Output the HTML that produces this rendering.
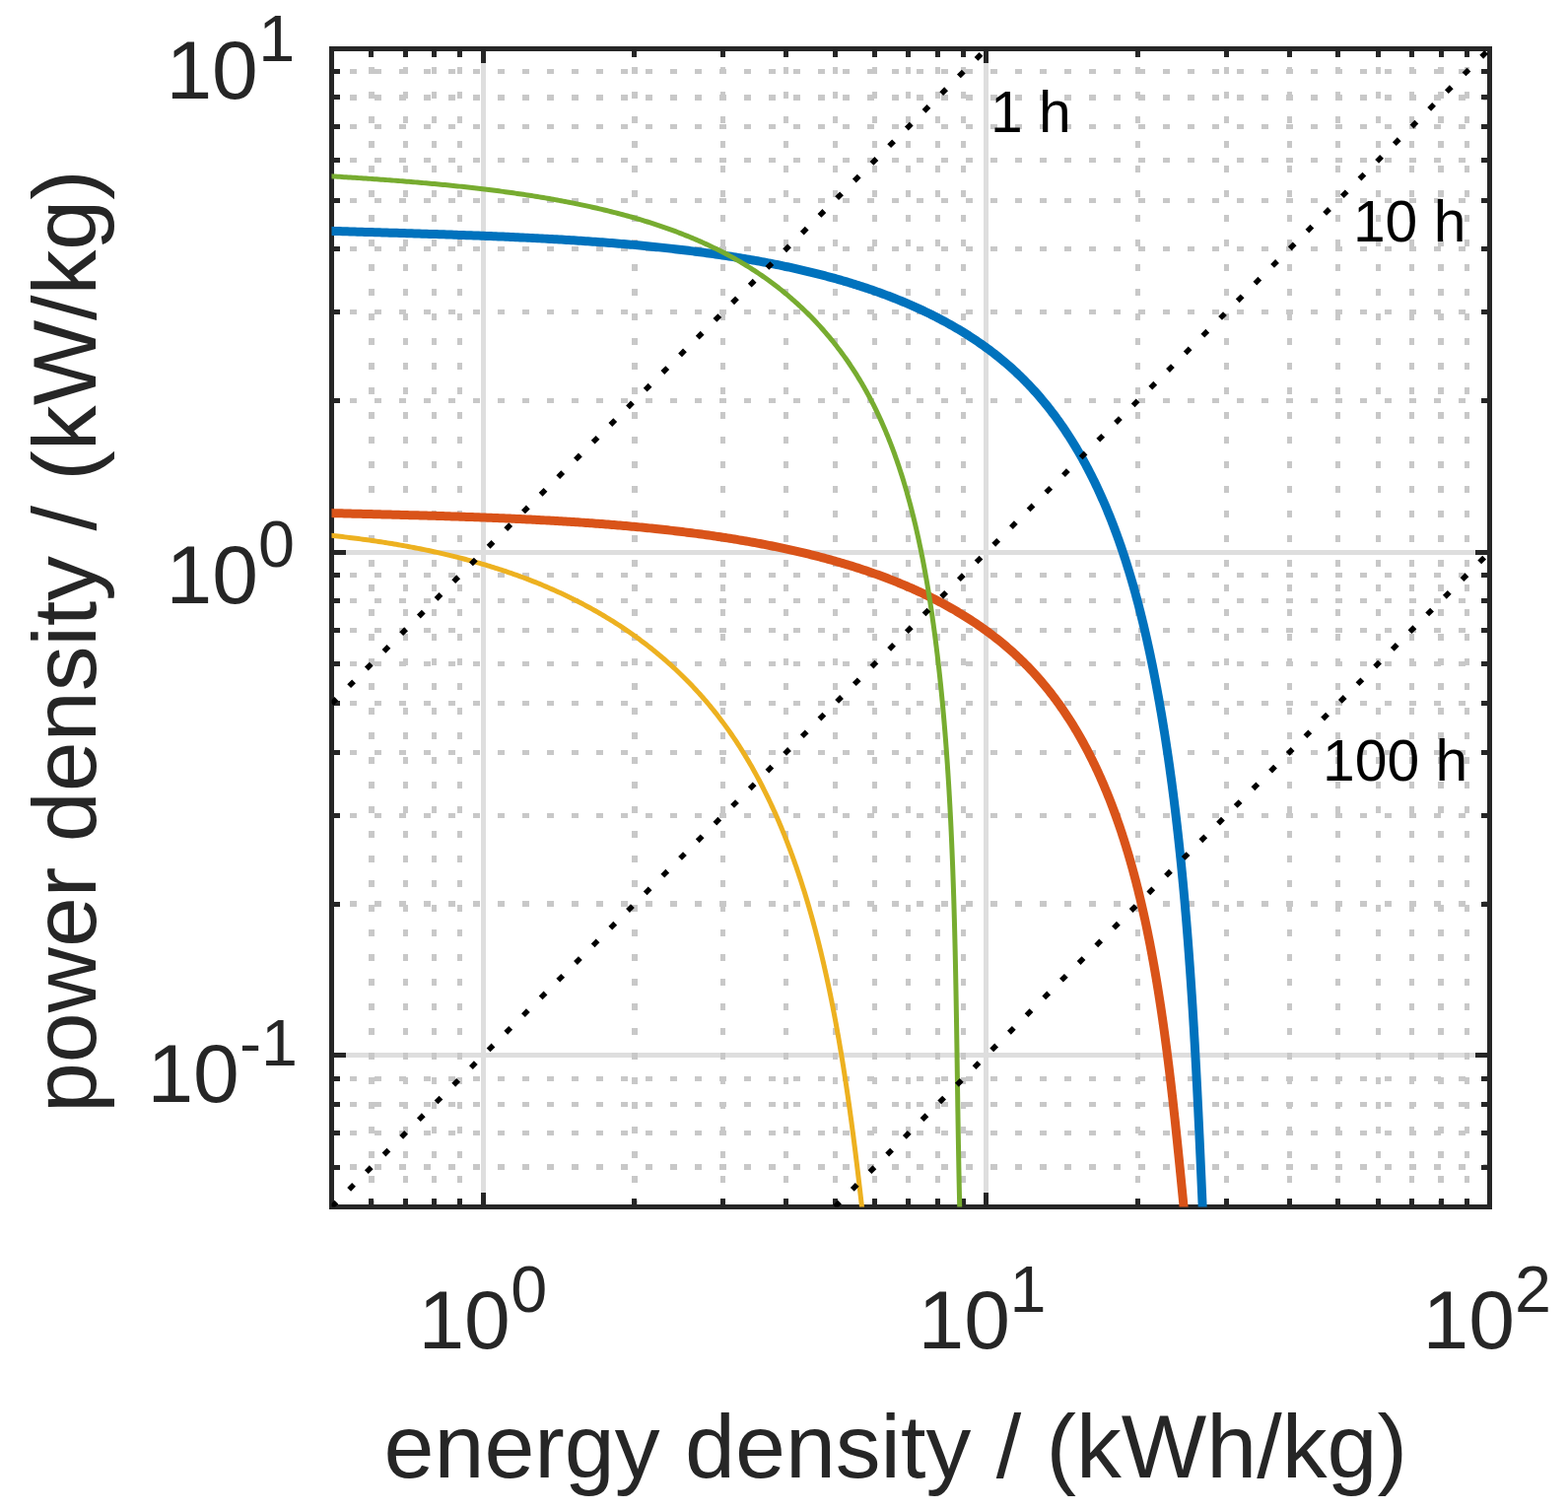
<!DOCTYPE html>
<html><head><meta charset="utf-8"><title>Ragone plot</title>
<style>html,body{margin:0;padding:0;background:#fff;}svg{display:block}
text{font-family:"Liberation Sans",sans-serif;}</style></head>
<body><svg width="1591" height="1532" viewBox="0 0 1591 1532">
<rect width="1591" height="1532" fill="#fff"/>
<defs><clipPath id="ax"><rect x="336.5" y="49.5" width="1175.0" height="1175.0"/></clipPath></defs>
<g clip-path="url(#ax)" shape-rendering="crispEdges"><path d="M490.22 1224.5V49.5M1000.86 1224.5V49.5M1511.5 1070.78H336.5M1511.5 560.14H336.5" stroke="#dedede" stroke-width="5" fill="none"/>
<path d="M376.93 1224.5V49.5M411.12 1224.5V49.5M440.73 1224.5V49.5M466.85 1224.5V49.5M643.94 1224.5V49.5M733.86 1224.5V49.5M797.65 1224.5V49.5M847.14 1224.5V49.5M887.57 1224.5V49.5M921.76 1224.5V49.5M951.37 1224.5V49.5M977.49 1224.5V49.5M1154.58 1224.5V49.5M1244.5 1224.5V49.5M1308.3 1224.5V49.5M1357.78 1224.5V49.5M1398.21 1224.5V49.5M1432.4 1224.5V49.5M1462.01 1224.5V49.5M1488.13 1224.5V49.5M1511.5 1184.07H336.5M1511.5 1149.88H336.5M1511.5 1120.27H336.5M1511.5 1094.15H336.5M1511.5 917.06H336.5M1511.5 827.14H336.5M1511.5 763.35H336.5M1511.5 713.86H336.5M1511.5 673.43H336.5M1511.5 639.24H336.5M1511.5 609.63H336.5M1511.5 583.51H336.5M1511.5 406.42H336.5M1511.5 316.5H336.5M1511.5 252.7H336.5M1511.5 203.22H336.5M1511.5 162.79H336.5M1511.5 128.6H336.5M1511.5 98.99H336.5M1511.5 72.87H336.5" stroke="#c8c8c8" stroke-width="5.2" stroke-dasharray="6.7 18.3" fill="none"/></g>
<path d="M490.22 1224.5v-11.75M490.22 49.5v11.75M1000.86 1224.5v-11.75M1000.86 49.5v11.75M376.93 1224.5v-5.875M376.93 49.5v5.875M411.12 1224.5v-5.875M411.12 49.5v5.875M440.73 1224.5v-5.875M440.73 49.5v5.875M466.85 1224.5v-5.875M466.85 49.5v5.875M643.94 1224.5v-5.875M643.94 49.5v5.875M733.86 1224.5v-5.875M733.86 49.5v5.875M797.65 1224.5v-5.875M797.65 49.5v5.875M847.14 1224.5v-5.875M847.14 49.5v5.875M887.57 1224.5v-5.875M887.57 49.5v5.875M921.76 1224.5v-5.875M921.76 49.5v5.875M951.37 1224.5v-5.875M951.37 49.5v5.875M977.49 1224.5v-5.875M977.49 49.5v5.875M1154.58 1224.5v-5.875M1154.58 49.5v5.875M1244.5 1224.5v-5.875M1244.5 49.5v5.875M1308.3 1224.5v-5.875M1308.3 49.5v5.875M1357.78 1224.5v-5.875M1357.78 49.5v5.875M1398.21 1224.5v-5.875M1398.21 49.5v5.875M1432.4 1224.5v-5.875M1432.4 49.5v5.875M1462.01 1224.5v-5.875M1462.01 49.5v5.875M1488.13 1224.5v-5.875M1488.13 49.5v5.875M336.5 1070.78h11.75M1511.5 1070.78h-11.75M336.5 560.14h11.75M1511.5 560.14h-11.75M336.5 1184.07h5.875M1511.5 1184.07h-5.875M336.5 1149.88h5.875M1511.5 1149.88h-5.875M336.5 1120.27h5.875M1511.5 1120.27h-5.875M336.5 1094.15h5.875M1511.5 1094.15h-5.875M336.5 917.06h5.875M1511.5 917.06h-5.875M336.5 827.14h5.875M1511.5 827.14h-5.875M336.5 763.35h5.875M1511.5 763.35h-5.875M336.5 713.86h5.875M1511.5 713.86h-5.875M336.5 673.43h5.875M1511.5 673.43h-5.875M336.5 639.24h5.875M1511.5 639.24h-5.875M336.5 609.63h5.875M1511.5 609.63h-5.875M336.5 583.51h5.875M1511.5 583.51h-5.875M336.5 406.42h5.875M1511.5 406.42h-5.875M336.5 316.5h5.875M1511.5 316.5h-5.875M336.5 252.7h5.875M1511.5 252.7h-5.875M336.5 203.22h5.875M1511.5 203.22h-5.875M336.5 162.79h5.875M1511.5 162.79h-5.875M336.5 128.6h5.875M1511.5 128.6h-5.875M336.5 98.99h5.875M1511.5 98.99h-5.875M336.5 72.87h5.875M1511.5 72.87h-5.875" stroke="#262626" stroke-width="5" stroke-linecap="square" fill="none" shape-rendering="crispEdges"/>
<rect x="336.5" y="49.5" width="1175.0" height="1175.0" stroke="#262626" stroke-width="4.8" fill="none" shape-rendering="crispEdges"/>
<g clip-path="url(#ax)" fill="none" stroke-linejoin="round">
<path d="M307.19 233.44 L309.71 233.52 L312.22 233.59 L314.74 233.67 L317.25 233.75 L319.77 233.83 L322.28 233.91 L324.8 233.99 L327.31 234.07 L329.83 234.14 L332.34 234.22 L334.85 234.3 L337.37 234.38 L339.88 234.46 L342.4 234.54 L344.91 234.61 L347.43 234.69 L349.94 234.77 L352.46 234.85 L354.97 234.93 L357.49 235 L360.01 235.08 L362.52 235.16 L365.04 235.23 L367.56 235.31 L370.07 235.39 L372.59 235.46 L375.11 235.54 L377.63 235.61 L380.14 235.69 L382.66 235.76 L385.18 235.84 L387.7 235.91 L390.22 235.99 L392.73 236.06 L395.25 236.14 L397.77 236.22 L400.29 236.29 L402.8 236.37 L405.32 236.44 L407.84 236.52 L410.35 236.59 L412.87 236.67 L415.39 236.75 L417.9 236.83 L420.42 236.9 L422.93 236.98 L425.45 237.06 L427.96 237.14 L430.48 237.22 L432.99 237.3 L435.51 237.38 L438.02 237.46 L440.53 237.54 L443.04 237.62 L445.55 237.7 L448.06 237.78 L450.57 237.87 L453.08 237.95 L455.59 238.03 L458.1 238.12 L460.61 238.21 L463.11 238.29 L465.62 238.38 L468.12 238.47 L470.63 238.56 L473.13 238.65 L475.63 238.74 L478.13 238.83 L480.63 238.92 L483.13 239.02 L485.63 239.11 L488.13 239.21 L490.63 239.3 L493.12 239.4 L495.62 239.5 L498.11 239.6 L500.6 239.7 L503.09 239.8 L505.58 239.91 L508.07 240.01 L510.56 240.12 L513.04 240.22 L515.53 240.33 L518.01 240.44 L520.49 240.55 L522.97 240.67 L525.45 240.78 L527.93 240.9 L530.41 241.01 L532.88 241.13 L535.36 241.25 L537.83 241.37 L540.3 241.49 L542.77 241.62 L545.23 241.74 L547.7 241.87 L550.16 242 L552.63 242.13 L555.09 242.26 L557.55 242.4 L560 242.54 L562.46 242.67 L564.91 242.81 L567.36 242.95 L569.81 243.1 L572.26 243.24 L574.71 243.39 L577.15 243.54 L579.59 243.69 L582.03 243.84 L584.47 244 L586.91 244.16 L589.34 244.31 L591.77 244.48 L594.2 244.64 L596.63 244.8 L599.06 244.97 L601.48 245.14 L603.9 245.31 L606.32 245.49 L608.74 245.66 L611.15 245.84 L613.56 246.02 L615.97 246.21 L618.38 246.39 L620.78 246.58 L623.19 246.77 L625.59 246.97 L627.98 247.16 L630.38 247.36 L632.77 247.56 L635.16 247.76 L637.55 247.97 L639.93 248.18 L642.32 248.39 L644.7 248.6 L647.07 248.82 L649.45 249.04 L651.82 249.26 L654.19 249.48 L656.55 249.71 L658.92 249.94 L661.28 250.17 L663.63 250.41 L665.99 250.65 L668.34 250.89 L670.69 251.13 L673.03 251.38 L675.38 251.63 L677.72 251.88 L680.05 252.14 L682.39 252.4 L684.72 252.66 L687.05 252.93 L689.37 253.2 L691.69 253.47 L694.01 253.74 L696.32 254.02 L698.64 254.3 L700.94 254.59 L703.25 254.88 L705.55 255.17 L707.85 255.46 L710.14 255.76 L712.43 256.06 L714.72 256.37 L717.01 256.68 L719.29 256.99 L721.57 257.3 L723.84 257.62 L726.11 257.95 L728.38 258.27 L730.64 258.6 L732.9 258.93 L735.16 259.27 L737.41 259.61 L739.66 259.96 L741.9 260.3 L744.15 260.66 L746.38 261.01 L748.62 261.37 L750.85 261.73 L753.07 262.1 L755.3 262.47 L757.51 262.85 L759.73 263.22 L761.94 263.61 L764.15 263.99 L766.35 264.39 L768.55 264.78 L770.74 265.18 L772.93 265.58 L775.12 265.99 L777.3 266.4 L779.48 266.81 L781.65 267.23 L783.82 267.66 L785.99 268.09 L788.15 268.52 L790.3 268.95 L792.46 269.4 L794.6 269.84 L796.75 270.29 L798.89 270.74 L801.02 271.2 L803.15 271.66 L805.28 272.13 L807.4 272.6 L809.52 273.08 L811.63 273.56 L813.74 274.05 L815.84 274.54 L817.94 275.03 L820.03 275.53 L822.12 276.03 L824.21 276.54 L826.29 277.06 L828.36 277.57 L830.43 278.1 L832.5 278.62 L834.56 279.16 L836.61 279.69 L838.66 280.24 L840.71 280.78 L842.75 281.33 L844.79 281.89 L846.82 282.45 L848.85 283.02 L850.87 283.59 L852.88 284.17 L854.89 284.75 L856.9 285.34 L858.9 285.93 L860.9 286.53 L862.89 287.13 L864.87 287.74 L866.85 288.35 L868.83 288.97 L870.8 289.59 L872.76 290.22 L874.72 290.86 L876.67 291.5 L878.62 292.14 L880.56 292.79 L882.5 293.45 L884.43 294.11 L886.36 294.78 L888.28 295.45 L890.19 296.13 L892.1 296.81 L894.01 297.5 L895.9 298.2 L897.8 298.9 L899.68 299.6 L901.57 300.31 L903.44 301.03 L905.31 301.76 L907.17 302.48 L909.5 303.4 L911.81 304.33 L914.11 305.27 L916.41 306.22 L918.69 307.17 L920.97 308.14 L923.23 309.11 L925.49 310.1 L927.74 311.09 L929.98 312.1 L932.21 313.11 L934.42 314.13 L936.63 315.16 L938.83 316.21 L941.02 317.26 L943.2 318.32 L945.37 319.39 L947.53 320.47 L949.68 321.56 L951.82 322.66 L953.95 323.78 L956.07 324.9 L958.18 326.03 L960.28 327.17 L962.37 328.32 L964.45 329.49 L966.52 330.66 L968.58 331.84 L970.63 333.03 L972.66 334.24 L974.69 335.45 L976.71 336.68 L978.71 337.92 L980.71 339.16 L982.69 340.42 L984.66 341.69 L986.62 342.97 L988.58 344.26 L990.52 345.56 L992.45 346.87 L994.36 348.19 L996.27 349.53 L998.17 350.87 L1000.05 352.23 L1001.93 353.6 L1003.79 354.98 L1005.64 356.37 L1007.48 357.77 L1009.31 359.18 L1011.12 360.61 L1012.93 362.05 L1014.72 363.49 L1016.5 364.95 L1018.27 366.42 L1020.03 367.91 L1021.78 369.4 L1023.51 370.91 L1025.23 372.43 L1026.94 373.96 L1028.64 375.5 L1030.33 377.06 L1032 378.63 L1033.66 380.2 L1035.31 381.8 L1036.95 383.4 L1038.58 385.01 L1040.19 386.64 L1041.8 388.28 L1043.39 389.93 L1044.97 391.59 L1046.54 393.26 L1048.09 394.95 L1049.64 396.65 L1051.17 398.35 L1052.69 400.07 L1054.2 401.8 L1055.7 403.55 L1057.19 405.3 L1058.67 407.06 L1060.13 408.84 L1061.59 410.63 L1063.03 412.42 L1064.47 414.23 L1065.89 416.05 L1067.3 417.88 L1068.7 419.72 L1070.09 421.57 L1071.47 423.44 L1072.84 425.31 L1074.2 427.19 L1075.54 429.09 L1076.88 430.99 L1078.21 432.9 L1079.52 434.83 L1080.83 436.77 L1082.12 438.71 L1083.41 440.67 L1084.69 442.63 L1085.95 444.61 L1087.21 446.6 L1088.45 448.59 L1089.69 450.6 L1090.91 452.61 L1092.13 454.64 L1093.33 456.67 L1094.53 458.72 L1095.72 460.77 L1096.89 462.84 L1098.06 464.91 L1099.22 466.99 L1100.37 469.09 L1101.51 471.19 L1102.64 473.3 L1103.76 475.42 L1104.87 477.55 L1105.97 479.69 L1107.07 481.84 L1108.15 484 L1109.23 486.16 L1110.29 488.34 L1111.35 490.52 L1112.4 492.71 L1113.44 494.91 L1114.47 497.12 L1115.49 499.34 L1116.51 501.57 L1117.51 503.81 L1118.51 506.05 L1119.5 508.3 L1120.48 510.56 L1121.45 512.83 L1122.42 515.11 L1123.37 517.4 L1124.32 519.69 L1125.26 521.99 L1126.19 524.3 L1127.11 526.62 L1128.03 528.95 L1128.75 530.82 L1129.47 532.69 L1130.19 534.56 L1130.9 536.45 L1131.61 538.33 L1132.31 540.22 L1133.01 542.12 L1133.7 544.02 L1134.39 545.93 L1135.07 547.84 L1135.75 549.75 L1136.42 551.67 L1137.09 553.6 L1137.75 555.53 L1138.41 557.46 L1139.06 559.4 L1139.71 561.35 L1140.36 563.29 L1141 565.25 L1141.63 567.2 L1142.27 569.17 L1142.89 571.13 L1143.51 573.1 L1144.13 575.08 L1144.75 577.06 L1145.36 579.04 L1145.96 581.03 L1146.56 583.02 L1147.16 585.02 L1147.75 587.02 L1148.34 589.02 L1148.92 591.03 L1149.5 593.05 L1150.08 595.06 L1150.65 597.09 L1151.22 599.11 L1151.78 601.14 L1152.34 603.18 L1152.89 605.21 L1153.45 607.25 L1153.99 609.3 L1154.54 611.35 L1155.08 613.4 L1155.61 615.46 L1156.14 617.52 L1156.67 619.59 L1157.2 621.66 L1157.72 623.73 L1158.24 625.8 L1158.75 627.88 L1159.26 629.97 L1159.76 632.05 L1160.27 634.14 L1160.77 636.24 L1161.26 638.34 L1161.75 640.44 L1162.24 642.54 L1162.73 644.65 L1163.21 646.76 L1163.69 648.88 L1164.16 651 L1164.63 653.12 L1165.1 655.24 L1165.57 657.37 L1166.03 659.5 L1166.49 661.64 L1166.94 663.78 L1167.39 665.92 L1167.84 668.06 L1168.29 670.21 L1168.73 672.36 L1169.17 674.51 L1169.61 676.67 L1170.04 678.83 L1170.47 680.99 L1170.9 683.16 L1171.32 685.33 L1171.74 687.5 L1172.16 689.67 L1172.58 691.85 L1172.99 694.03 L1173.4 696.21 L1173.81 698.4 L1174.21 700.58 L1174.62 702.78 L1175.02 704.97 L1175.41 707.16 L1175.81 709.36 L1176.2 711.57 L1176.59 713.77 L1176.97 715.98 L1177.36 718.18 L1177.74 720.4 L1178.12 722.61 L1178.5 724.83 L1178.87 727.05 L1179.24 729.27 L1179.61 731.49 L1179.98 733.72 L1180.34 735.95 L1180.7 738.18 L1181.06 740.41 L1181.42 742.65 L1181.78 744.89 L1182.13 747.13 L1182.48 749.37 L1182.83 751.62 L1183.17 753.86 L1183.51 756.11 L1183.85 758.37 L1184.19 760.62 L1184.53 762.88 L1184.86 765.14 L1185.19 767.4 L1185.52 769.66 L1185.85 771.93 L1186.17 774.2 L1186.5 776.47 L1186.82 778.74 L1187.14 781.02 L1187.45 783.29 L1187.77 785.57 L1188.08 787.85 L1188.39 790.14 L1188.69 792.42 L1189 794.71 L1189.3 797 L1189.6 799.29 L1189.9 801.59 L1190.2 803.89 L1190.49 806.18 L1190.78 808.48 L1191.08 810.79 L1191.36 813.09 L1191.65 815.4 L1191.93 817.71 L1192.22 820.02 L1192.5 822.33 L1192.78 824.65 L1193.05 826.96 L1193.33 829.28 L1193.6 831.6 L1193.87 833.92 L1194.14 836.25 L1194.4 838.58 L1194.67 840.9 L1194.93 843.23 L1195.19 845.57 L1195.45 847.9 L1195.71 850.24 L1195.97 852.57 L1196.22 854.91 L1196.47 857.25 L1196.72 859.6 L1196.97 861.94 L1197.21 864.29 L1197.46 866.64 L1197.7 868.99 L1197.94 871.34 L1198.18 873.69 L1198.42 876.05 L1198.66 878.41 L1198.89 880.77 L1199.12 883.13 L1199.35 885.49 L1199.58 887.85 L1199.81 890.22 L1200.03 892.59 L1200.26 894.96 L1200.48 897.33 L1200.7 899.7 L1200.92 902.07 L1201.14 904.45 L1201.35 906.83 L1201.57 909.2 L1201.78 911.58 L1201.99 913.97 L1202.2 916.35 L1202.41 918.73 L1202.62 921.12 L1202.82 923.51 L1203.03 925.9 L1203.23 928.29 L1203.43 930.68 L1203.63 933.08 L1203.83 935.47 L1204.02 937.87 L1204.22 940.27 L1204.41 942.67 L1204.6 945.07 L1204.8 947.47 L1204.98 949.87 L1205.17 952.28 L1205.36 954.68 L1205.54 957.09 L1205.73 959.5 L1205.91 961.91 L1206.09 964.32 L1206.27 966.74 L1206.45 969.15 L1206.63 971.57 L1206.8 973.98 L1206.98 976.4 L1207.15 978.82 L1207.33 981.24 L1207.5 983.66 L1207.67 986.09 L1207.84 988.51 L1208 990.94 L1208.17 993.36 L1208.33 995.79 L1208.5 998.22 L1208.66 1000.65 L1208.82 1003.08 L1208.98 1005.51 L1209.14 1007.95 L1209.3 1010.38 L1209.46 1012.82 L1209.62 1015.26 L1209.77 1017.69 L1209.93 1020.13 L1210.08 1022.57 L1210.23 1025.01 L1210.38 1027.45 L1210.53 1029.9 L1210.68 1032.34 L1210.83 1034.79 L1210.98 1037.23 L1211.12 1039.68 L1211.27 1042.13 L1211.41 1044.58 L1211.56 1047.03 L1211.7 1049.48 L1211.84 1051.93 L1211.98 1054.38 L1212.12 1056.83 L1212.26 1059.29 L1212.4 1061.74 L1212.54 1064.2 L1212.67 1066.66 L1212.81 1069.11 L1212.94 1071.57 L1213.08 1074.03 L1213.21 1076.49 L1213.34 1078.95 L1213.47 1081.41 L1213.61 1083.87 L1213.74 1086.34 L1213.86 1088.8 L1213.99 1091.27 L1214.12 1093.73 L1214.25 1096.2 L1214.38 1098.66 L1214.5 1101.13 L1214.63 1103.6 L1214.75 1106.07 L1214.88 1108.54 L1215 1111.01 L1215.12 1113.48 L1215.24 1115.95 L1215.37 1118.42 L1215.49 1120.89 L1215.61 1123.36 L1215.73 1125.84 L1215.85 1128.31 L1215.96 1130.78 L1216.08 1133.26 L1216.2 1135.73 L1216.32 1138.21 L1216.43 1140.69 L1216.55 1143.16 L1216.67 1145.64 L1216.78 1148.12 L1216.9 1150.6 L1217.01 1153.08 L1217.13 1155.56 L1217.24 1158.03 L1217.35 1160.51 L1217.46 1163 L1217.58 1165.48 L1217.69 1167.96 L1217.8 1170.44 L1217.91 1172.92 L1218.02 1175.4 L1218.13 1177.88 L1218.24 1180.37 L1218.35 1182.85 L1218.46 1185.33 L1218.57 1187.82 L1218.68 1190.3 L1218.79 1192.79 L1218.9 1195.27 L1219.01 1197.75 L1219.12 1200.24 L1219.23 1202.72 L1219.33 1205.21 L1219.44 1207.69 L1219.55 1210.18 L1219.66 1212.67 L1219.76 1215.15 L1219.87 1217.64 L1219.98 1220.12 L1220.09 1222.61 L1220.19 1225.1 L1220.3 1227.58 L1220.41 1230.07 L1220.51 1232.56 L1220.62 1235.04 L1220.73 1237.53 L1220.83 1240.01 L1220.94 1242.5 L1221.05 1244.99 L1221.15 1247.47 L1221.26 1249.96 L1221.37 1252.45 L1221.47 1254.93 L1221.58 1257.42 L1221.69 1259.91 L1221.79 1262.39 L1221.82 1263.01" stroke="#0072bd" stroke-width="9"/>
<path d="M299.89 519.67 L302.03 519.73 L304.17 519.78 L306.32 519.83 L308.46 519.89 L310.6 519.94 L312.74 520 L314.88 520.05 L317.03 520.11 L319.17 520.16 L321.31 520.22 L323.45 520.27 L325.59 520.33 L327.74 520.38 L329.88 520.43 L332.02 520.49 L334.16 520.54 L336.3 520.6 L338.45 520.65 L340.59 520.71 L342.73 520.76 L344.87 520.82 L347.01 520.87 L349.16 520.92 L351.3 520.98 L353.44 521.03 L355.58 521.09 L357.73 521.14 L359.87 521.19 L362.01 521.25 L364.16 521.3 L366.3 521.35 L368.44 521.41 L370.58 521.46 L372.73 521.52 L374.87 521.57 L377.01 521.62 L379.15 521.68 L381.3 521.73 L383.44 521.79 L385.58 521.84 L387.72 521.9 L389.86 521.95 L392 522.01 L394.15 522.06 L396.29 522.12 L398.43 522.17 L400.57 522.23 L402.71 522.28 L404.85 522.34 L406.99 522.4 L409.13 522.46 L411.27 522.51 L413.4 522.57 L415.54 522.63 L417.68 522.69 L419.82 522.75 L421.96 522.81 L424.09 522.87 L426.23 522.93 L428.36 522.99 L430.5 523.05 L432.64 523.11 L434.77 523.17 L436.9 523.23 L439.04 523.3 L441.17 523.36 L443.3 523.42 L445.43 523.49 L447.57 523.55 L449.7 523.62 L451.83 523.69 L453.96 523.75 L456.08 523.82 L458.21 523.89 L460.34 523.96 L462.47 524.03 L464.59 524.1 L466.72 524.17 L468.84 524.24 L470.97 524.31 L473.09 524.39 L475.21 524.46 L477.34 524.53 L479.46 524.61 L481.58 524.69 L483.7 524.76 L485.81 524.84 L487.93 524.92 L490.05 525 L492.16 525.08 L494.28 525.16 L496.39 525.24 L498.51 525.33 L500.62 525.41 L502.73 525.5 L504.84 525.58 L506.95 525.67 L509.06 525.76 L511.17 525.85 L513.27 525.94 L515.38 526.03 L517.48 526.12 L519.58 526.22 L521.69 526.31 L523.79 526.41 L525.89 526.5 L527.99 526.6 L530.08 526.7 L532.18 526.8 L534.27 526.9 L536.37 527 L538.46 527.11 L540.55 527.21 L542.64 527.32 L544.73 527.42 L546.82 527.53 L548.91 527.64 L550.99 527.75 L553.08 527.87 L555.16 527.98 L557.24 528.1 L559.32 528.21 L561.4 528.33 L563.48 528.45 L565.55 528.57 L567.63 528.69 L569.7 528.82 L571.77 528.94 L573.84 529.07 L575.91 529.19 L577.98 529.32 L580.04 529.45 L582.11 529.59 L584.17 529.72 L586.23 529.86 L588.29 529.99 L590.35 530.13 L592.41 530.27 L594.46 530.41 L596.51 530.56 L598.57 530.7 L600.62 530.85 L602.66 531 L604.71 531.15 L606.75 531.3 L608.8 531.45 L610.84 531.61 L612.88 531.76 L614.92 531.92 L616.95 532.08 L618.99 532.24 L621.02 532.41 L623.05 532.57 L625.08 532.74 L627.11 532.91 L629.13 533.08 L631.16 533.25 L633.18 533.43 L635.2 533.6 L637.22 533.78 L639.23 533.96 L641.25 534.15 L643.26 534.33 L645.27 534.52 L647.28 534.7 L649.28 534.89 L651.29 535.09 L653.29 535.28 L655.29 535.48 L657.29 535.68 L659.28 535.88 L661.28 536.08 L663.27 536.28 L665.26 536.49 L667.74 536.75 L670.22 537.02 L672.7 537.29 L675.18 537.56 L677.65 537.83 L680.11 538.11 L682.58 538.39 L685.04 538.68 L687.49 538.97 L689.95 539.26 L692.4 539.56 L694.84 539.86 L697.28 540.16 L699.72 540.47 L702.16 540.78 L704.59 541.09 L707.02 541.41 L709.44 541.73 L711.86 542.06 L714.27 542.39 L716.69 542.72 L719.09 543.06 L721.5 543.4 L723.9 543.75 L726.29 544.1 L728.68 544.45 L731.07 544.81 L733.46 545.17 L735.84 545.54 L738.21 545.91 L740.58 546.28 L742.95 546.66 L745.31 547.04 L747.67 547.43 L750.03 547.82 L752.38 548.22 L754.72 548.62 L757.06 549.02 L759.4 549.43 L761.73 549.84 L764.06 550.26 L766.38 550.68 L768.7 551.11 L771.02 551.54 L773.33 551.98 L775.63 552.42 L777.93 552.86 L780.23 553.31 L782.52 553.77 L784.8 554.23 L787.09 554.69 L789.36 555.16 L791.64 555.63 L793.9 556.11 L796.17 556.59 L798.42 557.08 L800.68 557.57 L802.92 558.07 L805.17 558.58 L807.4 559.08 L809.64 559.6 L811.86 560.11 L814.09 560.64 L816.3 561.17 L818.52 561.7 L820.72 562.24 L822.92 562.78 L825.12 563.33 L827.31 563.89 L829.5 564.44 L831.68 565.01 L833.85 565.58 L836.02 566.16 L838.19 566.74 L840.35 567.32 L842.5 567.91 L844.65 568.51 L846.79 569.12 L848.93 569.72 L851.06 570.34 L853.19 570.96 L855.31 571.58 L857.42 572.21 L859.53 572.85 L861.63 573.49 L863.73 574.14 L865.82 574.8 L867.91 575.45 L869.99 576.12 L872.06 576.79 L874.13 577.47 L876.19 578.15 L878.25 578.84 L880.3 579.54 L882.35 580.24 L884.38 580.95 L886.42 581.66 L888.44 582.38 L890.46 583.1 L892.48 583.84 L894.48 584.57 L896.49 585.32 L898.48 586.07 L900.47 586.82 L902.45 587.59 L904.43 588.36 L906.4 589.13 L908.36 589.91 L910.32 590.7 L912.27 591.5 L914.22 592.3 L916.15 593.11 L918.08 593.92 L920.01 594.74 L921.93 595.57 L923.84 596.4 L925.74 597.24 L927.64 598.09 L929.53 598.94 L931.42 599.8 L933.3 600.67 L935.17 601.55 L937.03 602.43 L938.89 603.32 L940.74 604.21 L942.59 605.11 L944.42 606.02 L946.25 606.94 L948.08 607.86 L949.89 608.79 L951.7 609.72 L953.5 610.67 L955.3 611.62 L957.09 612.58 L958.87 613.54 L960.64 614.51 L962.41 615.49 L964.16 616.48 L965.92 617.47 L967.66 618.47 L969.4 619.48 L971.13 620.5 L972.85 621.52 L974.57 622.55 L976.61 623.8 L978.65 625.06 L980.68 626.33 L982.69 627.6 L984.7 628.89 L986.69 630.2 L988.67 631.51 L990.65 632.83 L992.61 634.16 L994.56 635.51 L996.49 636.87 L998.42 638.23 L1000.34 639.61 L1002.24 641 L1004.13 642.4 L1006.02 643.82 L1007.89 645.24 L1009.74 646.68 L1011.59 648.13 L1013.43 649.59 L1015.25 651.06 L1017.06 652.54 L1018.86 654.03 L1020.65 655.54 L1022.43 657.06 L1024.19 658.59 L1025.94 660.13 L1027.68 661.69 L1029.41 663.25 L1031.13 664.83 L1032.83 666.42 L1034.52 668.03 L1036.2 669.64 L1037.87 671.27 L1039.52 672.91 L1041.17 674.56 L1042.8 676.23 L1044.41 677.91 L1046.02 679.59 L1047.61 681.3 L1049.19 683.01 L1050.76 684.74 L1052.32 686.48 L1053.86 688.23 L1055.39 689.99 L1056.91 691.76 L1058.42 693.55 L1059.92 695.35 L1061.4 697.16 L1062.88 698.98 L1064.34 700.81 L1065.79 702.65 L1067.23 704.51 L1068.66 706.38 L1070.07 708.26 L1071.48 710.15 L1072.87 712.05 L1074.25 713.96 L1075.62 715.89 L1076.98 717.82 L1078.33 719.77 L1079.67 721.72 L1081 723.69 L1082.31 725.67 L1083.62 727.66 L1084.91 729.66 L1086.19 731.67 L1087.47 733.69 L1088.73 735.72 L1089.98 737.77 L1091.22 739.82 L1092.25 741.54 L1093.27 743.27 L1094.28 745 L1095.29 746.74 L1096.29 748.49 L1097.28 750.24 L1098.26 752 L1099.24 753.77 L1100.21 755.55 L1101.17 757.33 L1102.13 759.12 L1103.08 760.92 L1104.02 762.72 L1104.95 764.53 L1105.88 766.34 L1106.81 768.17 L1107.72 770 L1108.63 771.83 L1109.53 773.68 L1110.43 775.53 L1111.32 777.38 L1112.2 779.25 L1113.08 781.12 L1113.94 782.99 L1114.81 784.88 L1115.66 786.77 L1116.52 788.66 L1117.36 790.56 L1118.2 792.47 L1119.03 794.38 L1119.85 796.3 L1120.67 798.23 L1121.49 800.16 L1122.29 802.1 L1123.09 804.05 L1123.89 806 L1124.68 807.96 L1125.46 809.92 L1126.24 811.89 L1127.01 813.86 L1127.77 815.84 L1128.53 817.83 L1129.28 819.82 L1130.03 821.82 L1130.77 823.83 L1131.51 825.84 L1132.24 827.85 L1132.96 829.87 L1133.68 831.9 L1134.39 833.93 L1135.1 835.97 L1135.8 838.01 L1136.5 840.06 L1137.19 842.12 L1137.88 844.18 L1138.56 846.24 L1139.23 848.31 L1139.9 850.39 L1140.56 852.47 L1141.22 854.56 L1141.88 856.65 L1142.53 858.75 L1143.17 860.85 L1143.81 862.96 L1144.44 865.07 L1145.07 867.19 L1145.69 869.31 L1146.31 871.44 L1146.92 873.57 L1147.53 875.71 L1148.13 877.85 L1148.73 880 L1149.33 882.15 L1149.91 884.3 L1150.5 886.47 L1151.08 888.63 L1151.65 890.8 L1152.22 892.98 L1152.79 895.16 L1153.35 897.35 L1153.9 899.53 L1154.46 901.73 L1155 903.93 L1155.54 906.13 L1156.08 908.34 L1156.62 910.55 L1157.15 912.77 L1157.67 914.99 L1158.19 917.21 L1158.71 919.44 L1159.22 921.67 L1159.73 923.91 L1160.23 926.15 L1160.73 928.4 L1161.23 930.65 L1161.72 932.9 L1162.21 935.16 L1162.69 937.42 L1163.17 939.69 L1163.64 941.96 L1164.12 944.24 L1164.58 946.51 L1165.05 948.79 L1165.51 951.08 L1165.96 953.37 L1166.42 955.66 L1166.86 957.96 L1167.31 960.26 L1167.75 962.56 L1168.19 964.87 L1168.62 967.18 L1169.05 969.5 L1169.48 971.82 L1169.91 974.14 L1170.33 976.46 L1170.74 978.79 L1171.16 981.12 L1171.57 983.46 L1171.97 985.8 L1172.38 988.14 L1172.78 990.48 L1173.18 992.83 L1173.57 995.18 L1173.96 997.54 L1174.35 999.9 L1174.73 1002.26 L1175.12 1004.62 L1175.49 1006.99 L1175.87 1009.36 L1176.24 1011.73 L1176.61 1014.11 L1176.98 1016.48 L1177.34 1018.87 L1177.71 1021.25 L1178.06 1023.64 L1178.42 1026.03 L1178.77 1028.42 L1179.12 1030.81 L1179.47 1033.21 L1179.82 1035.61 L1180.16 1038.02 L1180.5 1040.42 L1180.84 1042.83 L1181.17 1045.24 L1181.5 1047.65 L1181.84 1050.07 L1182.16 1052.49 L1182.49 1054.91 L1182.81 1057.33 L1183.13 1059.75 L1183.45 1062.18 L1183.77 1064.61 L1184.08 1067.04 L1184.39 1069.47 L1184.7 1071.91 L1185.01 1074.35 L1185.32 1076.79 L1185.62 1079.23 L1185.92 1081.67 L1186.22 1084.12 L1186.52 1086.56 L1186.82 1089.01 L1187.11 1091.46 L1187.41 1093.92 L1187.7 1096.37 L1187.99 1098.83 L1188.27 1101.29 L1188.56 1103.75 L1188.84 1106.21 L1189.13 1108.67 L1189.41 1111.14 L1189.69 1113.6 L1189.96 1116.07 L1190.24 1118.54 L1190.52 1121.01 L1190.79 1123.48 L1191.06 1125.96 L1191.33 1128.43 L1191.6 1130.91 L1191.87 1133.38 L1192.14 1135.86 L1192.4 1138.34 L1192.67 1140.82 L1192.93 1143.31 L1193.19 1145.79 L1193.45 1148.27 L1193.71 1150.76 L1193.97 1153.25 L1194.18 1155.24 L1194.39 1157.23 L1194.59 1159.22 L1194.8 1161.21 L1195 1163.2 L1195.2 1165.19 L1195.41 1167.19 L1195.61 1169.18 L1195.81 1171.17 L1196.01 1173.17 L1196.22 1175.16 L1196.42 1177.16 L1196.62 1179.16 L1196.82 1181.15 L1197.02 1183.15 L1197.22 1185.15 L1197.41 1187.14 L1197.61 1189.14 L1197.81 1191.14 L1198.01 1193.14 L1198.21 1195.14 L1198.4 1197.14 L1198.6 1199.14 L1198.8 1201.14 L1198.99 1203.14 L1199.19 1205.14 L1199.39 1207.14 L1199.58 1209.14 L1199.78 1211.14 L1199.98 1213.14 L1200.17 1215.14 L1200.37 1217.14 L1200.56 1219.14 L1200.76 1221.14 L1200.95 1223.14 L1201.15 1225.14 L1201.34 1227.14 L1201.54 1229.15 L1201.74 1231.15 L1201.93 1233.15 L1202.13 1235.15 L1202.32 1237.15 L1202.52 1239.15 L1202.71 1241.15 L1202.91 1243.15 L1203.1 1245.15 L1203.3 1247.15 L1203.49 1249.16 L1203.69 1251.16 L1203.88 1253.16 L1204.08 1255.16 L1204.28 1257.16 L1204.47 1259.16 L1204.67 1261.16 L1204.72 1261.66" stroke="#d95319" stroke-width="9"/>
<path d="M303.08 539.78 L305.42 540.03 L307.76 540.29 L310.11 540.54 L312.45 540.79 L314.79 541.04 L317.13 541.3 L319.47 541.55 L321.81 541.8 L324.16 542.05 L326.5 542.3 L328.84 542.56 L331.18 542.81 L333.52 543.06 L335.87 543.31 L338.21 543.57 L340.55 543.82 L342.89 544.07 L345.22 544.34 L347.55 544.6 L349.88 544.87 L352.2 545.14 L354.51 545.42 L356.82 545.7 L359.13 545.99 L361.43 546.28 L363.73 546.58 L366.03 546.88 L368.31 547.19 L370.6 547.5 L372.88 547.81 L375.15 548.13 L377.42 548.46 L379.69 548.78 L381.95 549.12 L384.2 549.46 L386.45 549.8 L388.7 550.15 L390.94 550.5 L393.18 550.86 L395.41 551.22 L397.64 551.58 L399.86 551.96 L402.08 552.33 L404.29 552.71 L406.5 553.1 L408.71 553.49 L410.91 553.89 L413.1 554.29 L415.29 554.69 L417.47 555.1 L419.65 555.52 L421.83 555.94 L424 556.36 L426.16 556.79 L428.32 557.23 L430.47 557.66 L432.62 558.11 L434.77 558.56 L436.91 559.01 L439.04 559.47 L441.17 559.94 L443.3 560.41 L445.42 560.88 L447.53 561.36 L449.64 561.85 L451.75 562.34 L453.85 562.83 L455.94 563.33 L458.03 563.84 L460.11 564.35 L462.19 564.86 L464.27 565.38 L466.33 565.91 L468.4 566.44 L470.46 566.97 L472.51 567.51 L474.56 568.06 L476.6 568.61 L478.64 569.17 L480.67 569.73 L482.7 570.3 L484.72 570.87 L486.73 571.45 L488.75 572.03 L490.75 572.62 L492.75 573.21 L494.75 573.81 L496.74 574.42 L498.72 575.03 L500.7 575.64 L502.67 576.26 L504.64 576.89 L506.61 577.52 L508.56 578.16 L510.52 578.8 L512.46 579.45 L514.4 580.1 L516.34 580.76 L518.27 581.42 L520.19 582.09 L522.11 582.77 L524.03 583.45 L525.93 584.13 L527.84 584.83 L529.73 585.52 L531.63 586.23 L533.51 586.93 L535.39 587.65 L537.27 588.37 L539.14 589.09 L541 589.82 L543.17 590.68 L545.33 591.55 L547.48 592.43 L549.62 593.31 L551.76 594.2 L553.89 595.1 L556.01 596 L558.12 596.92 L560.23 597.84 L562.32 598.76 L564.42 599.7 L566.5 600.65 L568.57 601.6 L570.64 602.56 L572.7 603.52 L574.75 604.5 L576.79 605.48 L578.83 606.47 L580.86 607.47 L582.88 608.48 L584.89 609.49 L586.9 610.51 L588.9 611.54 L590.89 612.58 L592.87 613.62 L594.84 614.67 L596.81 615.73 L598.77 616.8 L600.72 617.88 L602.66 618.96 L604.6 620.05 L606.52 621.15 L608.44 622.26 L610.36 623.37 L612.26 624.5 L614.16 625.63 L616.04 626.77 L617.92 627.91 L619.8 629.07 L621.66 630.23 L623.52 631.4 L625.37 632.57 L627.21 633.76 L629.04 634.95 L630.87 636.15 L632.68 637.36 L634.49 638.58 L636.3 639.81 L638.09 641.04 L639.88 642.28 L641.65 643.53 L643.42 644.78 L645.19 646.05 L646.94 647.32 L648.69 648.6 L650.43 649.89 L652.16 651.19 L653.88 652.49 L655.59 653.8 L657.3 655.12 L659 656.45 L660.69 657.79 L662.37 659.13 L664.05 660.48 L665.71 661.84 L667.37 663.21 L669.02 664.59 L670.66 665.97 L672.3 667.36 L673.93 668.76 L675.54 670.17 L677.16 671.59 L678.76 673.01 L680.35 674.44 L681.94 675.88 L683.52 677.33 L685.09 678.79 L686.65 680.25 L688.2 681.72 L689.75 683.2 L691.29 684.69 L692.82 686.19 L694.34 687.69 L695.85 689.21 L697.36 690.73 L698.86 692.26 L700.35 693.79 L701.83 695.34 L703.3 696.89 L704.77 698.45 L706.22 700.02 L707.67 701.6 L709.11 703.19 L710.55 704.78 L711.97 706.38 L713.39 707.99 L714.8 709.61 L716.2 711.24 L717.59 712.87 L718.97 714.51 L720.35 716.17 L721.72 717.82 L723.07 719.49 L724.43 721.17 L725.77 722.85 L727.1 724.54 L728.43 726.24 L729.75 727.95 L731.06 729.67 L732.36 731.39 L733.65 733.13 L734.94 734.87 L736.21 736.62 L737.48 738.38 L738.74 740.14 L740 741.92 L741.24 743.7 L742.48 745.49 L743.71 747.29 L744.93 749.09 L746.14 750.91 L747.34 752.73 L748.54 754.56 L749.73 756.4 L750.91 758.24 L752.08 760.1 L753.25 761.96 L754.41 763.83 L755.56 765.7 L756.7 767.59 L757.83 769.48 L758.96 771.38 L760.08 773.29 L761.19 775.2 L762.3 777.12 L763.39 779.05 L764.48 780.99 L765.57 782.93 L766.64 784.88 L767.71 786.84 L768.77 788.81 L769.82 790.78 L770.87 792.76 L771.91 794.75 L772.94 796.75 L773.96 798.75 L774.98 800.76 L775.99 802.77 L777 804.79 L777.99 806.82 L778.98 808.86 L779.97 810.91 L780.94 812.96 L781.91 815.01 L782.87 817.08 L783.83 819.15 L784.78 821.23 L785.72 823.31 L786.66 825.4 L787.58 827.5 L788.51 829.6 L789.42 831.72 L790.33 833.83 L791.23 835.96 L792.13 838.09 L793.02 840.22 L793.9 842.37 L794.78 844.52 L795.65 846.67 L796.52 848.83 L797.37 851 L798.11 852.87 L798.83 854.73 L799.55 856.61 L800.27 858.48 L800.98 860.37 L801.69 862.25 L802.39 864.14 L803.09 866.04 L803.79 867.94 L804.48 869.84 L805.17 871.75 L805.85 873.66 L806.52 875.58 L807.2 877.5 L807.87 879.42 L808.53 881.35 L809.19 883.29 L809.85 885.23 L810.5 887.17 L811.15 889.11 L811.79 891.06 L812.43 893.02 L813.07 894.98 L813.7 896.94 L814.33 898.91 L814.95 900.88 L815.57 902.85 L816.19 904.83 L816.8 906.81 L817.4 908.8 L818.01 910.79 L818.61 912.79 L819.2 914.78 L819.8 916.79 L820.38 918.79 L820.97 920.8 L821.55 922.82 L822.13 924.83 L822.7 926.85 L823.27 928.88 L823.83 930.91 L824.4 932.94 L824.95 934.98 L825.51 937.02 L826.06 939.06 L826.61 941.11 L827.15 943.16 L827.69 945.21 L828.23 947.27 L828.76 949.33 L829.29 951.39 L829.82 953.46 L830.34 955.53 L830.86 957.61 L831.37 959.69 L831.89 961.77 L832.4 963.85 L832.9 965.94 L833.4 968.04 L833.9 970.13 L834.4 972.23 L834.89 974.33 L835.38 976.44 L835.87 978.54 L836.35 980.65 L836.83 982.77 L837.31 984.89 L837.78 987.01 L838.25 989.13 L838.72 991.26 L839.18 993.39 L839.64 995.52 L840.1 997.66 L840.56 999.8 L841.01 1001.94 L841.46 1004.08 L841.9 1006.23 L842.35 1008.38 L842.79 1010.54 L843.22 1012.69 L843.66 1014.85 L844.09 1017.02 L844.52 1019.18 L844.95 1021.35 L845.37 1023.52 L845.79 1025.69 L846.21 1027.87 L846.62 1030.05 L847.04 1032.23 L847.45 1034.41 L847.85 1036.6 L848.26 1038.79 L848.66 1040.98 L849.06 1043.18 L849.46 1045.37 L849.85 1047.57 L850.24 1049.78 L850.63 1051.98 L851.02 1054.19 L851.41 1056.4 L851.79 1058.61 L852.17 1060.82 L852.54 1063.04 L852.92 1065.26 L853.29 1067.48 L853.66 1069.71 L854.03 1071.93 L854.4 1074.16 L854.76 1076.39 L855.12 1078.63 L855.48 1080.86 L855.84 1083.1 L856.19 1085.34 L856.54 1087.58 L856.89 1089.82 L857.24 1092.07 L857.59 1094.32 L857.93 1096.57 L858.28 1098.82 L858.62 1101.07 L858.95 1103.33 L859.29 1105.59 L859.62 1107.85 L859.96 1110.11 L860.29 1112.37 L860.61 1114.64 L860.94 1116.91 L861.27 1119.18 L861.59 1121.45 L861.91 1123.72 L862.23 1126 L862.55 1128.27 L862.86 1130.55 L863.18 1132.83 L863.49 1135.11 L863.8 1137.4 L864.11 1139.68 L864.42 1141.97 L864.72 1144.26 L865.03 1146.55 L865.33 1148.84 L865.63 1151.13 L865.93 1153.43 L866.23 1155.72 L866.52 1158.02 L866.82 1160.32 L867.11 1162.62 L867.41 1164.92 L867.7 1167.23 L867.99 1169.53 L868.27 1171.84 L868.56 1174.14 L868.85 1176.45 L869.13 1178.76 L869.41 1181.07 L869.7 1183.39 L869.98 1185.7 L870.26 1188.02 L870.53 1190.33 L870.81 1192.65 L871.09 1194.97 L871.36 1197.29 L871.63 1199.61 L871.91 1201.93 L872.18 1204.25 L872.45 1206.58 L872.72 1208.9 L872.99 1211.23 L873.25 1213.55 L873.52 1215.88 L873.79 1218.21 L874.05 1220.54 L874.31 1222.87 L874.58 1225.2 L874.84 1227.53 L875.1 1229.86 L875.37 1232.2 L875.63 1234.53 L875.89 1236.86 L876.15 1239.19 L876.42 1241.52 L876.68 1243.85 L876.94 1246.18 L877.21 1248.52 L877.47 1250.85 L877.73 1253.18 L877.99 1255.51 L878.26 1257.84 L878.52 1260.17 L878.61 1260.95" stroke="#edb120" stroke-width="5"/>
<path d="M300.42 176.64 L302.64 176.77 L304.85 176.91 L307.07 177.04 L309.28 177.18 L311.49 177.31 L313.71 177.45 L315.92 177.59 L318.14 177.72 L320.35 177.86 L322.56 177.99 L324.78 178.13 L326.99 178.26 L329.21 178.4 L331.42 178.53 L333.63 178.67 L335.85 178.81 L338.06 178.94 L340.28 179.08 L342.49 179.21 L344.7 179.35 L346.91 179.49 L349.12 179.63 L351.33 179.77 L353.54 179.91 L355.75 180.05 L357.96 180.19 L360.16 180.34 L362.37 180.48 L364.57 180.63 L366.77 180.77 L368.98 180.92 L371.18 181.07 L373.38 181.22 L375.57 181.37 L377.77 181.53 L379.97 181.68 L382.16 181.83 L384.35 181.99 L386.55 182.15 L388.74 182.31 L390.92 182.47 L393.11 182.63 L395.3 182.79 L397.48 182.96 L399.67 183.12 L401.85 183.29 L404.03 183.46 L406.21 183.63 L408.39 183.8 L410.56 183.98 L412.74 184.15 L414.91 184.33 L417.08 184.51 L419.25 184.69 L421.42 184.87 L423.58 185.05 L425.75 185.24 L427.91 185.43 L430.07 185.62 L432.23 185.81 L434.38 186 L436.54 186.19 L438.69 186.39 L440.84 186.59 L442.99 186.79 L445.14 186.99 L447.28 187.2 L449.43 187.4 L451.57 187.61 L453.71 187.82 L455.84 188.04 L457.98 188.25 L460.11 188.47 L462.24 188.69 L464.37 188.91 L466.5 189.13 L468.62 189.36 L470.74 189.59 L472.86 189.82 L474.98 190.05 L477.09 190.28 L479.2 190.52 L481.31 190.76 L483.42 191 L485.52 191.25 L487.63 191.5 L489.73 191.75 L491.82 192 L493.92 192.25 L496.01 192.51 L498.1 192.77 L500.18 193.04 L502.27 193.3 L504.35 193.57 L506.43 193.84 L508.5 194.11 L510.58 194.39 L512.65 194.67 L514.72 194.95 L516.78 195.24 L518.84 195.52 L520.9 195.82 L522.96 196.11 L525.01 196.41 L527.06 196.71 L529.11 197.01 L531.15 197.31 L533.19 197.62 L535.23 197.93 L537.26 198.25 L539.3 198.57 L541.32 198.89 L543.35 199.21 L545.37 199.54 L547.39 199.87 L549.41 200.2 L551.42 200.54 L553.43 200.88 L555.43 201.22 L557.44 201.57 L559.44 201.92 L561.43 202.28 L563.42 202.63 L565.41 202.99 L567.4 203.36 L569.38 203.73 L571.36 204.1 L573.33 204.47 L575.3 204.85 L577.27 205.23 L579.24 205.62 L581.69 206.1 L584.13 206.6 L586.57 207.1 L589 207.6 L591.43 208.11 L593.85 208.63 L596.26 209.15 L598.67 209.68 L601.07 210.21 L603.47 210.75 L605.86 211.3 L608.24 211.85 L610.62 212.41 L612.99 212.98 L615.36 213.55 L617.72 214.13 L620.07 214.71 L622.41 215.3 L624.75 215.9 L627.08 216.51 L629.41 217.12 L631.73 217.74 L634.04 218.36 L636.35 218.99 L638.64 219.63 L640.94 220.28 L643.22 220.93 L645.5 221.59 L647.77 222.26 L650.03 222.93 L652.29 223.61 L654.54 224.3 L656.78 225 L659.01 225.7 L661.24 226.41 L663.46 227.13 L665.67 227.85 L667.87 228.58 L670.07 229.32 L672.26 230.07 L674.44 230.83 L676.61 231.59 L678.78 232.36 L680.94 233.14 L683.09 233.93 L685.23 234.72 L687.36 235.52 L689.49 236.34 L691.61 237.15 L693.72 237.98 L695.82 238.82 L697.92 239.66 L700 240.51 L702.08 241.37 L704.15 242.24 L706.21 243.11 L708.26 244 L710.3 244.89 L712.34 245.79 L714.36 246.71 L716.38 247.62 L718.39 248.55 L720.39 249.49 L722.38 250.43 L724.37 251.39 L726.34 252.35 L728.3 253.32 L730.26 254.31 L732.21 255.3 L734.14 256.3 L736.07 257.3 L737.99 258.32 L739.9 259.35 L741.8 260.38 L743.69 261.43 L745.58 262.48 L747.45 263.55 L749.31 264.62 L751.17 265.7 L753.02 266.79 L754.85 267.89 L756.68 269 L758.5 270.12 L760.31 271.25 L762.11 272.38 L763.9 273.53 L765.68 274.69 L767.45 275.85 L769.22 277.02 L770.97 278.21 L772.72 279.4 L774.45 280.6 L776.18 281.81 L777.9 283.03 L779.61 284.25 L781.31 285.49 L783 286.74 L784.68 287.99 L786.35 289.26 L788.02 290.53 L789.67 291.81 L791.32 293.1 L792.95 294.41 L794.58 295.72 L796.2 297.03 L797.81 298.36 L799.41 299.7 L801 301.05 L802.58 302.4 L804.15 303.77 L805.71 305.14 L807.27 306.52 L808.81 307.92 L810.35 309.32 L811.88 310.73 L813.39 312.15 L814.9 313.57 L816.4 315.01 L817.89 316.46 L819.37 317.91 L820.85 319.38 L822.31 320.85 L823.76 322.33 L825.21 323.83 L826.64 325.33 L828.07 326.84 L829.49 328.36 L830.9 329.89 L832.3 331.42 L833.69 332.97 L835.07 334.52 L836.44 336.09 L837.8 337.66 L839.16 339.25 L840.5 340.84 L841.84 342.44 L843.17 344.05 L844.49 345.67 L845.79 347.29 L847.09 348.93 L848.38 350.58 L849.67 352.23 L850.94 353.9 L852.2 355.57 L853.46 357.25 L854.7 358.94 L855.94 360.64 L857.17 362.35 L858.39 364.07 L859.6 365.8 L860.8 367.54 L861.99 369.28 L863.17 371.04 L864.34 372.8 L865.51 374.57 L866.66 376.35 L867.81 378.15 L868.95 379.95 L870.07 381.75 L871.19 383.57 L872.3 385.4 L873.4 387.23 L874.5 389.08 L875.58 390.93 L876.65 392.8 L877.72 394.67 L878.77 396.55 L879.82 398.44 L880.86 400.34 L881.89 402.25 L882.91 404.16 L883.92 406.09 L884.92 408.03 L885.91 409.97 L886.9 411.92 L887.87 413.88 L888.84 415.86 L889.79 417.84 L890.74 419.82 L891.68 421.82 L892.61 423.83 L893.53 425.84 L894.45 427.87 L895.35 429.9 L896.25 431.94 L897.13 433.99 L898.01 436.05 L898.88 438.12 L899.74 440.19 L900.6 442.27 L901.44 444.37 L902.28 446.47 L903.11 448.57 L903.93 450.69 L904.74 452.81 L905.55 454.94 L906.35 457.08 L907.14 459.23 L907.92 461.39 L908.69 463.55 L909.46 465.72 L910.22 467.9 L910.97 470.09 L911.71 472.28 L912.45 474.48 L913.17 476.69 L913.89 478.91 L914.61 481.13 L915.31 483.36 L916.01 485.6 L916.71 487.84 L917.39 490.1 L918.07 492.35 L918.74 494.62 L919.4 496.89 L920.06 499.17 L920.71 501.46 L921.35 503.75 L921.99 506.06 L922.62 508.36 L923.24 510.68 L923.86 513 L924.47 515.32 L925.07 517.66 L925.67 520 L926.26 522.34 L926.84 524.7 L927.42 527.05 L927.99 529.42 L928.56 531.79 L929.12 534.17 L929.67 536.55 L930.22 538.94 L930.76 541.34 L931.3 543.74 L931.83 546.14 L932.35 548.56 L932.87 550.98 L933.38 553.4 L933.89 555.83 L934.39 558.26 L934.89 560.71 L935.38 563.15 L935.86 565.6 L936.25 567.57 L936.63 569.54 L937.01 571.51 L937.38 573.48 L937.75 575.46 L938.12 577.45 L938.48 579.43 L938.85 581.42 L939.2 583.41 L939.56 585.41 L939.91 587.4 L940.26 589.4 L940.6 591.41 L940.95 593.42 L941.29 595.43 L941.62 597.44 L941.95 599.46 L942.29 601.47 L942.61 603.5 L942.94 605.52 L943.26 607.55 L943.58 609.58 L943.89 611.61 L944.21 613.65 L944.52 615.69 L944.82 617.73 L945.13 619.78 L945.43 621.82 L945.73 623.87 L946.03 625.93 L946.32 627.98 L946.61 630.04 L946.9 632.1 L947.19 634.16 L947.48 636.23 L947.76 638.29 L948.04 640.37 L948.31 642.44 L948.59 644.51 L948.86 646.59 L949.13 648.67 L949.4 650.75 L949.66 652.84 L949.92 654.92 L950.19 657.01 L950.44 659.1 L950.7 661.2 L950.95 663.29 L951.2 665.39 L951.45 667.49 L951.7 669.6 L951.94 671.7 L952.19 673.81 L952.43 675.92 L952.66 678.03 L952.9 680.14 L953.13 682.26 L953.36 684.38 L953.59 686.5 L953.82 688.62 L954.04 690.75 L954.27 692.87 L954.49 695 L954.71 697.13 L954.92 699.27 L955.14 701.4 L955.35 703.54 L955.56 705.68 L955.77 707.82 L955.97 709.96 L956.18 712.11 L956.38 714.26 L956.58 716.41 L956.78 718.56 L956.97 720.71 L957.17 722.87 L957.36 725.03 L957.55 727.18 L957.74 729.35 L957.92 731.51 L958.11 733.67 L958.29 735.84 L958.47 738.01 L958.65 740.18 L958.83 742.35 L959 744.53 L959.17 746.7 L959.35 748.88 L959.52 751.06 L959.68 753.24 L959.85 755.43 L960.01 757.61 L960.18 759.8 L960.34 761.99 L960.5 764.18 L960.65 766.37 L960.81 768.57 L960.96 770.76 L961.11 772.96 L961.27 775.16 L961.41 777.36 L961.56 779.56 L961.71 781.77 L961.85 783.97 L961.99 786.18 L962.13 788.39 L962.27 790.6 L962.41 792.81 L962.55 795.02 L962.68 797.24 L962.81 799.45 L962.95 801.67 L963.08 803.89 L963.2 806.11 L963.33 808.34 L963.46 810.56 L963.58 812.79 L963.7 815.01 L963.82 817.24 L963.94 819.47 L964.06 821.7 L964.18 823.94 L964.29 826.17 L964.41 828.41 L964.52 830.64 L964.63 832.88 L964.74 835.12 L964.85 837.36 L964.96 839.6 L965.06 841.85 L965.17 844.09 L965.27 846.34 L965.37 848.59 L965.47 850.84 L965.57 853.09 L965.67 855.34 L965.77 857.59 L965.86 859.84 L965.96 862.1 L966.05 864.35 L966.14 866.61 L966.23 868.87 L966.32 871.13 L966.41 873.39 L966.5 875.65 L966.59 877.92 L966.67 880.18 L966.76 882.44 L966.84 884.71 L966.92 886.98 L967 889.25 L967.08 891.52 L967.16 893.79 L967.24 896.06 L967.32 898.33 L967.39 900.61 L967.47 902.88 L967.54 905.16 L967.61 907.43 L967.69 909.71 L967.76 911.99 L967.83 914.27 L967.9 916.55 L967.97 918.83 L968.03 921.11 L968.1 923.39 L968.16 925.68 L968.23 927.96 L968.29 930.25 L968.36 932.54 L968.42 934.82 L968.48 937.11 L968.54 939.4 L968.6 941.69 L968.66 943.98 L968.72 946.27 L968.78 948.56 L968.83 950.86 L968.89 953.15 L968.94 955.44 L969 957.74 L969.05 960.03 L969.11 962.33 L969.16 964.63 L969.21 966.92 L969.26 969.22 L969.31 971.52 L969.36 973.82 L969.41 976.12 L969.46 978.42 L969.51 980.72 L969.56 983.03 L969.6 985.33 L969.65 987.63 L969.7 989.93 L969.74 992.24 L969.79 994.54 L969.83 996.85 L969.88 999.15 L969.92 1001.46 L969.96 1003.77 L970.01 1006.07 L970.05 1008.38 L970.09 1010.69 L970.13 1013 L970.17 1015.3 L970.21 1017.61 L970.25 1019.92 L970.29 1022.23 L970.33 1024.54 L970.37 1026.85 L970.41 1029.16 L970.45 1031.48 L970.49 1033.79 L970.52 1036.1 L970.56 1038.41 L970.6 1040.72 L970.64 1043.04 L970.67 1045.35 L970.71 1047.66 L970.75 1049.97 L970.78 1052.29 L970.82 1054.6 L970.85 1056.92 L970.89 1059.23 L970.92 1061.54 L970.96 1063.86 L970.99 1066.17 L971.03 1068.49 L971.06 1070.8 L971.1 1073.12 L971.13 1075.43 L971.17 1077.75 L971.2 1080.06 L971.24 1082.38 L971.27 1084.69 L971.3 1087.01 L971.34 1089.32 L971.37 1091.64 L971.41 1093.95 L971.44 1096.27 L971.48 1098.58 L971.51 1100.9 L971.55 1103.21 L971.58 1105.53 L971.61 1107.84 L971.65 1110.16 L971.68 1112.47 L971.72 1114.79 L971.75 1117.1 L971.79 1119.42 L971.82 1121.73 L971.86 1124.05 L971.89 1126.36 L971.93 1128.67 L971.97 1130.99 L972 1133.3 L972.04 1135.61 L972.07 1137.93 L972.11 1140.24 L972.15 1142.55 L972.19 1144.87 L972.22 1147.18 L972.26 1149.49 L972.3 1151.8 L972.34 1154.11 L972.38 1156.42 L972.42 1158.73 L972.46 1161.04 L972.5 1163.35 L972.54 1165.66 L972.58 1167.97 L972.62 1170.28 L972.66 1172.59 L972.7 1174.89 L972.74 1177.2 L972.79 1179.51 L972.83 1181.82 L972.87 1184.12 L972.92 1186.43 L972.96 1188.73 L973.01 1191.04 L973.05 1193.34 L973.1 1195.64 L973.14 1197.95 L973.19 1200.25 L973.24 1202.55 L973.29 1204.85 L973.34 1207.15 L973.39 1209.45 L973.44 1211.75 L973.49 1214.05 L973.54 1216.35 L973.59 1218.65 L973.64 1220.94 L973.7 1223.24 L973.75 1225.53 L973.81 1227.83 L973.86 1230.13 L973.91 1232.42 L973.97 1234.72 L974.02 1237.01 L974.08 1239.31 L974.13 1241.6 L974.18 1243.9 L974.24 1246.19 L974.29 1248.49 L974.35 1250.79 L974.4 1253.08 L974.45 1255.38 L974.51 1257.67 L974.56 1259.97 L974.62 1262.26 L974.66 1263.98" stroke="#77ac30" stroke-width="5"/>
<path d="M336.5 713.86L1000.86 49.5" stroke="#000" stroke-width="5.4" stroke-dasharray="6.9 18.1"/>
<path d="M336.5 1224.5L1511.5 49.5" stroke="#000" stroke-width="5.4" stroke-dasharray="6.9 18.1"/>
<path d="M847.14 1224.5L1511.5 560.14" stroke="#000" stroke-width="5.4" stroke-dasharray="6.9 18.1"/>
</g>
<g fill="#262626"><text x="168.4" y="99.9" font-size="84">10</text><text x="262.3" y="61.8" font-size="66.5">1</text><text x="168.5" y="611.9" font-size="84">10</text><text x="262.0" y="574.6" font-size="66.5">0</text><text x="149.4" y="1117.9" font-size="84">10</text><text x="242.9" y="1080.8" font-size="66.5">-1</text><text x="424.4" y="1367.8" font-size="84">10</text><text x="518.2" y="1330.8" font-size="66.5">0</text><text x="931.5" y="1367.8" font-size="84">10</text><text x="1024.4" y="1330.9" font-size="66.5">1</text><text x="1443.6" y="1367.9" font-size="84">10</text><text x="1536.9" y="1330.9" font-size="66.5">2</text>
<text x="389.5" y="1499" font-size="91.6">energy density / (kWh/kg)</text>
<text transform="translate(97 1129.1) rotate(-90)" x="0" y="0" font-size="91.6">power density / (kW/kg)</text>
</g>
<g fill="#000" font-size="58.8"><text x="1005" y="133.8">1 h</text><text x="1372.9" y="245">10 h</text><text x="1342" y="792">100 h</text></g>
</svg></body></html>
